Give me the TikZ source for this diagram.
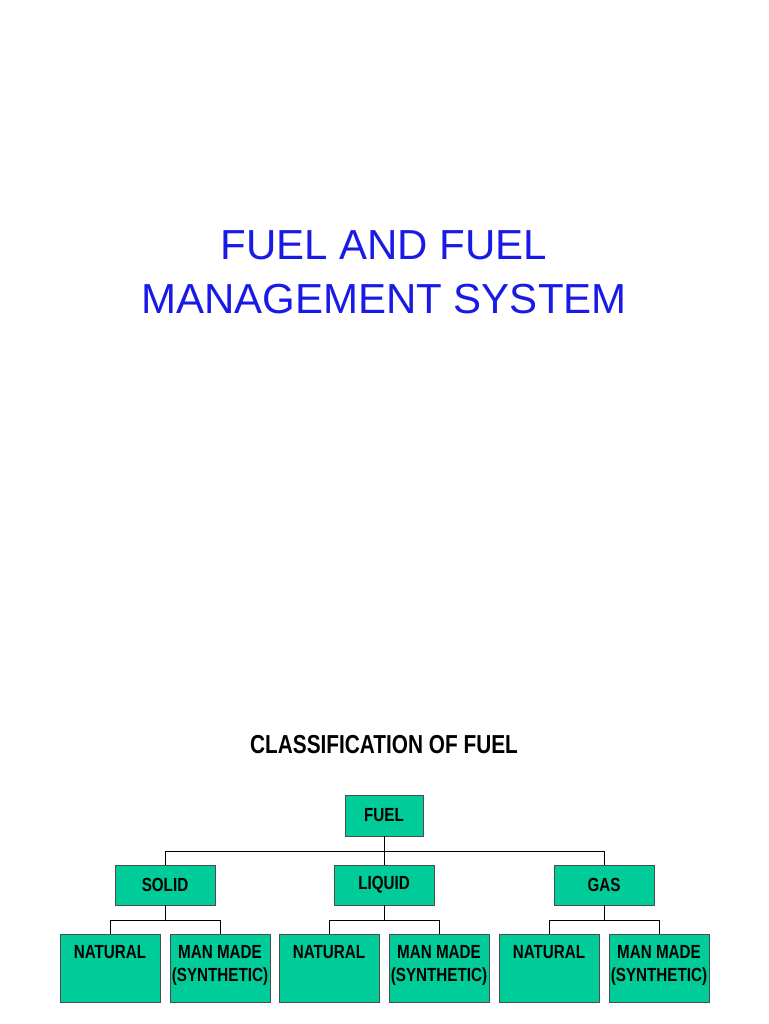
\documentclass[tikz,border=0pt]{standalone}
\usepackage{fontspec}
\setmainfont{Liberation Sans}
\definecolor{boxgreen}{HTML}{00CC99}
\definecolor{titleblue}{HTML}{1A1AE6}
\begin{document}
\begin{tikzpicture}[x=1pt,y=-1pt,
  box/.style={draw=black!70,line width=0.6pt,fill=boxgreen,inner sep=0pt},
  lbl/.style={font=\bfseries\fontsize{19}{23}\selectfont,xscale=0.8,align=center},
  conn/.style={draw=black,line width=1pt}]
\useasboundingbox (0,0) rectangle (768,1024);
\node[font=\fontsize{42}{54}\selectfont,text=titleblue,align=center] (title) at (384,272) {FUEL AND FUEL\\MANAGEMENT SYSTEM};
\node[font=\bfseries\fontsize{26}{30}\selectfont,xscale=0.8] (cls) at (384,745) {CLASSIFICATION OF FUEL};
% boxes
\node[box,minimum width=78pt,minimum height=41pt] (fuel) at (384,815.5) {};
\node[lbl] at (fuel) {FUEL};
\foreach \n/\t/\cx in {solid/SOLID/165,liquid/LIQUID/384,gas/GAS/604}{
  \node[box,minimum width=100pt,minimum height=40pt] (\n) at (\cx,885) {};
  \node[lbl] at (\n) {\t};
}
\foreach \p/\cx in {solid/165,liquid/384,gas/604}{
  \node[box,minimum width=100pt,minimum height=68pt] (\p nat) at (\cx-55,968) {};
  \node[lbl,anchor=north] at ([yshift=-8pt]\p nat.north) {NATURAL};
  \node[box,minimum width=100pt,minimum height=68pt] (\p mm) at (\cx+55,968) {};
  \node[lbl,anchor=north] at ([yshift=-8pt]\p mm.north) {MAN MADE\\(SYNTHETIC)};
  \draw[line width=0.8pt] (\p.south) -- ++(0,15) coordinate (\p j);
  \draw[line width=0.8pt] (\p nat.north) |- (\p j) -| (\p mm.north);
}
\draw[conn] (fuel.south) -- ++(0,15) coordinate (fj);
\draw[conn] (solid.north) |- (fj) -| (gas.north);
\draw[conn] (fj) -- (liquid.north);
\end{tikzpicture}
\end{document}
